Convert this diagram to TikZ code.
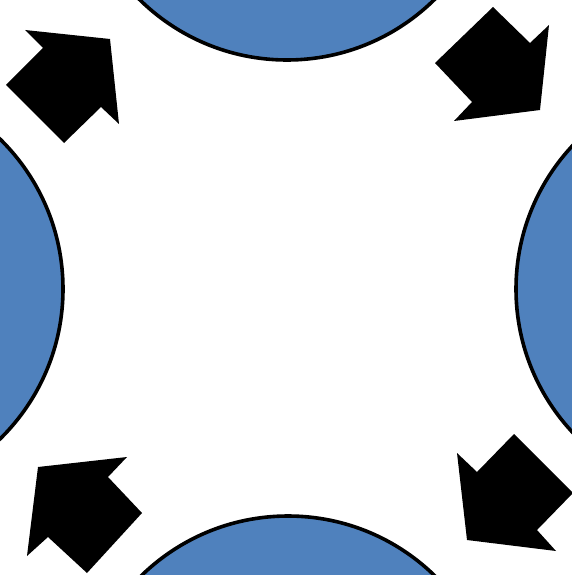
\documentclass[tikz,border=0pt]{standalone}
\usepackage{tikz}
\usepackage{xcolor}
\definecolor{ballblue}{RGB}{79, 129, 189}

\begin{document}
\begin{tikzpicture}[x=1pt, y=-1pt,
    ball/.style={fill=ballblue, draw=black, line width=3.6pt},
    pusher/.style={fill=black}]
      \useasboundingbox (0, 0) rectangle (572, 575);
      \clip (0, 0) rectangle (572, 575);

      % Balls (cut off at the edges)
      \draw[ball] (287, -150) circle (210pt);
      \draw[ball] (288, 726) circle (210pt);
      \draw[ball] (-147, 289) circle (210pt);
      \draw[ball] (726, 289) circle (210pt);

      % Arrows, top left and top right
      \fill[pusher] (25, 30) -- (110, 39) -- (119, 124) -- (101, 107)
        -- (64, 143) -- (6, 85) -- (43, 48) -- cycle;
      \fill[pusher] (493, 7) -- (530, 43) -- (549, 25) -- (540, 110)
        -- (454, 121) -- (472, 102) -- (435, 63) -- cycle;

      % Arrows, bottom left and bottom right
      \fill[pusher] (38, 467) -- (127, 457) -- (108, 477) -- (142, 513)
        -- (87, 573) -- (48, 537) -- (27, 556) -- cycle;
      \fill[pusher] (457, 453) -- (477, 472) -- (514, 434) -- (573, 493)
        -- (537, 530) -- (556, 551) -- (467, 540) -- cycle;
    \end{tikzpicture}
\end{document}
